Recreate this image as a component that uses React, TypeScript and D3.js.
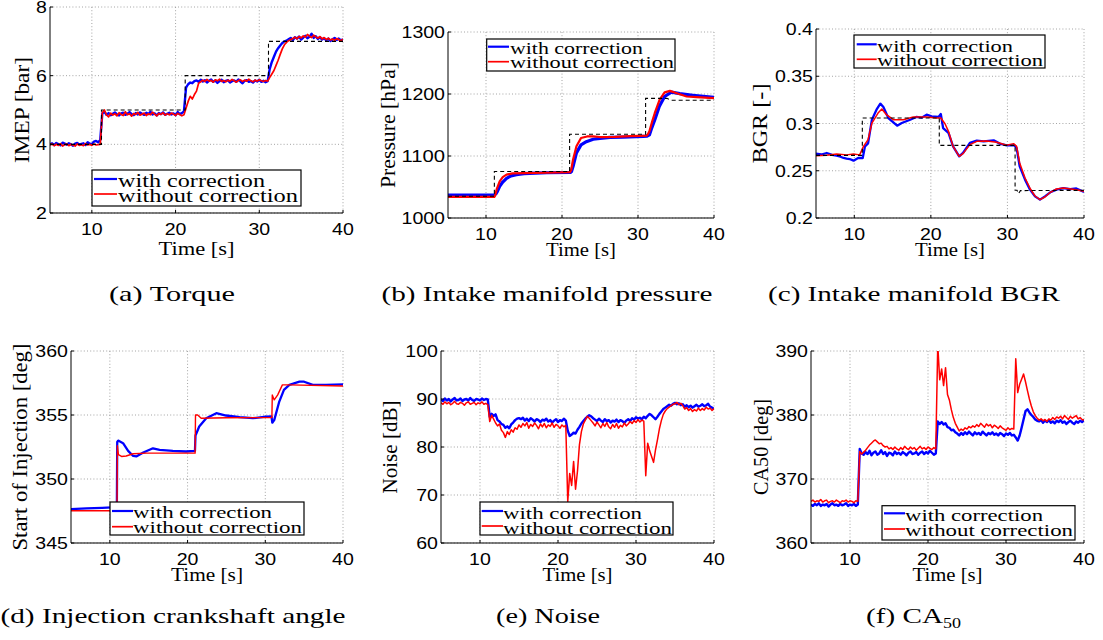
import React from 'react';
import * as d3 from 'd3';

// ---------------- DATA ----------------
const X_DOMAIN = [5, 40];
const X_TICKS = [10, 20, 30, 40];
const LEGEND_LABELS = ['with correction', 'without correction'];
const X_LABEL = 'Time [s]';

// common sampling grid for the noisy signals (every 0.25 s from 5 s to 40 s)
const T_GRID = d3.range(141).map((i) => 5 + i * 0.25);

// (a) Torque – IMEP [bar]
const torqueTicks = [2, 4, 6, 8];
const torqueWith = [
  4.00, 4.03, 3.98, 4.04, 4.01, 3.97, 4.05, 4.02, 3.99, 4.03, 4.00, 3.96, 4.02, 4.04, 3.99, 4.01, 4.03, 3.98, 4.06, 4.02, 4.00, 4.08, 4.10, 4.06, 4.12,
  4.90, 4.95, 4.86, 4.91, 4.85, 4.89, 4.93, 4.87, 4.84, 4.90, 4.92, 4.86, 4.89, 4.94, 4.88, 4.85, 4.91, 4.87, 4.93, 4.89,
  4.86, 4.92, 4.88, 4.95, 4.87, 4.90, 4.84, 4.91, 4.88, 4.93, 4.86, 4.89, 4.92, 4.87, 4.90, 4.85, 4.94, 4.88, 4.91, 4.96,
  5.65, 5.75, 5.80, 5.78, 5.84,
  5.86, 5.82, 5.88, 5.83, 5.87, 5.80, 5.85, 5.89, 5.82, 5.86, 5.79, 5.84, 5.88, 5.81, 5.85, 5.87, 5.80, 5.84, 5.86, 5.82,
  5.89, 5.83, 5.78, 5.85, 5.87, 5.82, 5.84, 5.80, 5.86, 5.83, 5.88, 5.82, 5.85, 5.81, 5.84,
  6.2, 6.4, 6.55, 6.7, 6.8, 6.88, 6.95, 7.0, 7.02,
  7.06, 7.10, 7.03, 7.12, 7.08, 7.14, 7.05, 7.11, 7.16, 7.09, 7.13, 7.22, 7.10, 7.15, 7.07, 7.12, 7.05, 7.09, 7.03, 7.08,
  7.01, 7.06, 7.10, 7.04, 7.08, 7.03, 7.06,
];
const torqueWithout = [
  3.98, 4.01, 3.96, 4.00, 3.97, 4.02, 3.95, 3.99, 4.01, 3.96, 4.00, 3.98, 3.95, 4.01, 3.97, 3.99, 3.96, 4.02, 3.98, 4.00, 3.97, 4.01, 3.98, 3.99, 4.00,
  4.92, 5.00,
  4.86, 4.80, 4.91, 4.85, 4.89, 4.83, 4.92, 4.87, 4.84, 4.95, 4.86, 4.89, 4.82, 4.90, 4.87, 4.93, 4.85, 4.88, 4.91, 4.84,
  4.89, 4.86, 4.94, 4.88, 4.83, 4.90, 4.87, 4.92, 4.85, 4.89, 4.86, 4.91, 4.88, 4.84, 4.90, 4.87, 4.83, 4.86,
  5.05, 5.25, 5.40, 5.32, 5.45, 5.55, 5.78, 5.82,
  5.87, 5.83, 5.89, 5.84, 5.86, 5.81, 5.88, 5.85, 5.90, 5.83, 5.86, 5.82, 5.87, 5.84, 5.89, 5.85, 5.81, 5.86, 5.88, 5.83,
  5.87, 5.84, 5.90, 5.85, 5.82, 5.87, 5.84, 5.88, 5.85, 5.83, 5.86, 5.84,
  5.95, 6.05, 6.15, 6.30, 6.45, 6.62, 6.78, 6.90, 6.97, 7.02,
  7.05, 7.08, 7.12, 7.07, 7.14, 7.10, 7.16, 7.12, 7.20, 7.15, 7.11, 7.18, 7.13, 7.09, 7.14, 7.07, 7.11, 7.05, 7.09, 7.04,
  7.07, 7.03, 7.08, 7.05, 7.02, 7.06,
];
const torqueRef: [number, number][] = [
  [5, 4], [11.15, 4], [11.15, 5], [21.15, 5], [21.15, 6], [31.1, 6], [31.1, 7], [40, 7],
];

// (b) Intake manifold pressure [hPa]
const pressureTicks = [1000, 1100, 1200, 1300];
const pressureWith: [number, number][] = [
  [5, 1037], [8, 1037], [11.1, 1037], [11.3, 1039], [11.5, 1043], [11.8, 1051], [12.2, 1058], [12.7, 1064], [13.3, 1068],
  [14, 1070], [15, 1071.5], [16.5, 1072.5], [18, 1073], [21.1, 1073.5], [21.25, 1075], [21.45, 1083], [21.9, 1105],
  [22.5, 1118], [23.2, 1123], [24.1, 1127], [25, 1128.5], [26.3, 1130], [28, 1130.5], [30.7, 1131.7], [31.2, 1132],
  [31.5, 1134], [31.8, 1145], [32.2, 1158], [32.8, 1180], [33.5, 1196], [34.4, 1203], [35.5, 1200.5], [37.2, 1198], [40, 1194.5],
];
const pressureWithout: [number, number][] = [
  [5, 1034], [11.1, 1034], [11.2, 1036], [11.4, 1046], [11.8, 1059], [12.2, 1066], [12.7, 1070], [13.5, 1072], [15, 1072.5],
  [18, 1073], [21.05, 1074], [21.2, 1077], [21.45, 1094], [21.9, 1115.6], [22.5, 1129], [23.3, 1131.5], [24.1, 1131.7],
  [25, 1130.6], [27, 1131], [29, 1132], [31.15, 1133], [31.3, 1135], [31.5, 1140], [31.85, 1155], [32.2, 1169], [32.85, 1191],
  [33.5, 1202.7], [34.2, 1205], [35, 1201.6], [36.4, 1196], [37.7, 1195], [40, 1193.5],
];
const pressureRef: [number, number][] = [
  [5, 1035], [11.1, 1035], [11.1, 1075], [21.0, 1075], [21.0, 1135], [31.0, 1135], [31.0, 1193], [33.8, 1193],
  [34.4, 1190], [40, 1190],
];

// (c) Intake manifold BGR [-]
const bgrTicks = [0.2, 0.25, 0.3, 0.35, 0.4];
const bgrTickLabels = ['0.2', '0.25', '0.3', '0.35', '0.4'];
const bgrWith: [number, number][] = [
  [5, 0.268], [5.7, 0.2672], [6.4, 0.2688], [7.1, 0.2668], [7.7, 0.266], [8.2, 0.2648], [8.6, 0.2635], [9.0, 0.2628],
  [9.4, 0.2624], [9.9, 0.2607], [10.5, 0.2635], [11.1, 0.2635], [11.4, 0.2758], [11.8, 0.279], [12.3, 0.304],
  [12.9, 0.3146], [13.4, 0.321], [13.8, 0.3175], [14.45, 0.3058], [15.1, 0.3012], [15.6, 0.2977], [16.2, 0.3005],
  [17.3, 0.304], [18.1, 0.3069], [18.8, 0.3062], [19.45, 0.3093], [20.1, 0.3076], [21.0, 0.3069], [21.3, 0.31],
  [21.6, 0.2952], [22.3, 0.29], [22.9, 0.2758], [23.7, 0.2653], [24.2, 0.2688], [25.1, 0.2794], [26.0, 0.2818],
  [26.9, 0.2811], [28.2, 0.2822], [29.0, 0.2787], [29.9, 0.2769], [30.9, 0.2769], [31.2, 0.274], [31.6, 0.2547],
  [32.3, 0.2406], [32.95, 0.23], [33.6, 0.2229], [34.25, 0.2194], [34.9, 0.2229], [35.6, 0.2272], [36.4, 0.23],
  [37.3, 0.2317], [38.2, 0.2305], [39, 0.2312], [40, 0.2275],
];
const bgrWithout: [number, number][] = [
  [5, 0.266], [6.4, 0.2665], [7.7, 0.2677], [9, 0.2668], [9.9, 0.2677], [10.7, 0.2668], [11.2, 0.2758], [11.8, 0.283],
  [12.3, 0.3005], [13.1, 0.311], [13.6, 0.3153], [14.2, 0.3093], [15.1, 0.304], [16.4, 0.304], [17.7, 0.3069],
  [19.45, 0.3069], [20.8, 0.3058], [21.3, 0.3058], [21.85, 0.2998], [22.3, 0.2917], [22.9, 0.2758], [23.7, 0.2653],
  [24.2, 0.2681], [25.1, 0.2776], [26.0, 0.2811], [27.3, 0.2815], [28.6, 0.2801], [29.9, 0.2769], [30.8, 0.2787],
  [31.2, 0.2758], [31.6, 0.2582], [32.3, 0.2423], [33.0, 0.2307], [33.6, 0.2233], [34.25, 0.2194], [34.9, 0.2222],
  [35.6, 0.2272], [36.4, 0.2307], [37.3, 0.2317], [39, 0.23], [40, 0.2282],
];
const bgrRef: [number, number][] = [
  [5, 0.2663], [11.05, 0.2663], [11.05, 0.3058], [21.1, 0.3058], [21.1, 0.2769], [31.0, 0.2769], [31.0, 0.2293],
  [31.25, 0.2293], [31.45, 0.2258], [31.7, 0.229], [40, 0.2293],
];

// (d) Start of injection [deg]
const soiTicks = [345, 350, 355, 360];
const soiWith: [number, number][] = [
  [5, 347.65], [7, 347.7], [9, 347.75], [10.9, 347.8], [10.95, 352.9], [11.07, 353.0], [11.7, 352.8], [12.35, 352.2],
  [13.0, 351.8], [13.4, 351.76], [14.3, 352.07], [15.55, 352.4], [16.4, 352.28], [18.1, 352.2], [19.8, 352.15],
  [20.95, 352.2], [21.02, 353.4], [21.5, 354.1], [22.4, 354.75], [23.7, 355.14], [24.95, 354.96], [26.7, 354.83],
  [28.4, 354.75], [30.1, 354.88], [30.8, 354.9], [30.9, 354.4], [31.15, 354.6], [31.8, 356.05], [32.4, 356.96],
  [33.1, 357.35], [34.4, 357.6], [35.0, 357.6], [36.1, 357.35], [37.8, 357.35], [40, 357.4],
];
const soiWithout: [number, number][] = [
  [5, 347.52], [10.92, 347.52], [10.97, 352.6], [11.1, 351.9], [11.5, 351.76], [12.1, 351.8], [13, 351.97], [14.7, 352.02],
  [20.97, 352.02], [21.02, 355.0], [21.3, 355.0], [21.75, 354.75], [25, 354.78], [30.85, 354.8], [30.9, 356.57],
  [31.15, 356.18], [31.6, 356.57], [32.2, 357.35], [33.1, 357.35], [40, 357.27],
];

// (e) Noise [dB]
const noiseTicks = [60, 70, 80, 90, 100];
const noiseWith = [
  89.9, 89.6, 90.1, 89.7, 90.0, 89.5, 89.9, 90.2, 89.7, 89.8, 90.1, 89.6, 89.9, 90.0, 89.7, 90.2, 89.8, 89.6, 90.0, 89.9, 89.7, 90.1, 89.8, 90.0, 89.9,
  86.3, 86.9, 86.5, 86.8, 85.6, 85.3, 84.8, 84.6, 84.0, 84.3, 83.9, 84.7, 85.1, 85.6, 85.9, 86.0,
  85.8, 86.1, 85.5, 85.9, 85.4, 86.0, 85.7, 85.3, 85.8, 85.6, 85.2, 85.7, 85.5, 85.9, 85.3, 85.6, 85.1, 85.5, 85.8, 85.2, 85.6, 85.4, 85.9, 85.5,
  83.4, 82.3, 82.6, 83.0, 82.8, 83.6, 84.2, 84.9, 85.4, 85.9, 86.3, 86.6, 86.4,
  86.0, 85.7, 85.4, 85.9, 85.5, 85.2, 85.8, 85.4, 85.6, 85.1, 85.5, 85.3, 85.7, 85.2, 85.6, 85.4, 85.0, 85.5, 85.8, 85.4, 86.0, 85.7, 86.2, 85.9, 86.1, 85.8, 86.3,
  86.0, 86.5, 86.9, 86.6, 86.2, 85.8, 86.3, 86.9, 87.4, 87.9, 88.2, 88.5,
  88.8, 88.6, 89.0, 89.2, 88.9, 89.1, 88.7, 88.9, 88.4, 88.7, 88.3, 88.6, 88.2, 88.5, 88.8, 88.4, 88.6, 88.9, 88.5, 88.7, 89.0, 88.4, 88.2, 87.9,
];
const noiseWithout = [
  89.2, 88.9, 89.4, 89.0, 89.3, 88.8, 89.1, 89.5, 89.0, 88.9, 89.3, 89.1, 88.7, 89.2, 89.4, 88.9, 89.1, 89.3, 88.8, 89.2, 89.0, 89.4, 88.9, 89.1, 88.8,
  85.3, 86.6, 85.8, 85.0, 84.4, 84.8, 83.5, 83.0, 82.0, 83.2, 82.6, 83.6, 83.1, 84.0, 83.7, 84.6,
  84.1, 84.9, 84.4, 85.1, 83.9, 84.7, 84.3, 85.0, 84.5, 83.8, 84.8, 84.2, 84.9, 84.0, 84.6, 84.3, 85.0, 84.1, 84.7, 84.4, 83.9, 84.6, 84.2, 84.5,
  68.6, 74.5, 72.0, 77.0, 71.2, 75.0, 80.5, 83.2, 84.8, 85.6, 86.4, 86.0, 85.5,
  85.0, 84.4, 85.2, 84.6, 84.0, 84.9, 84.3, 85.1, 84.2, 83.8, 84.7, 84.1, 84.9, 83.9, 84.5, 84.2, 85.0, 84.4, 84.8, 85.3, 84.9, 85.5, 85.1, 85.7, 85.2, 85.6, 85.4,
  74.0, 80.8, 79.2, 78.0, 76.8, 79.4, 81.5, 83.8, 85.5, 86.8, 87.5, 88.0,
  88.3, 88.6, 88.9, 89.0, 89.3, 88.8, 89.1, 88.6, 87.9, 88.2, 87.6, 88.0, 87.4, 87.8, 87.5, 88.1, 87.6, 88.0, 87.7, 88.3, 87.9, 88.1, 87.6, 88.0,
];

// (f) CA50 [deg]
const ca50Ticks = [360, 370, 380, 390];
const ca50With = [
  366.0, 365.8, 366.1, 365.9, 366.2, 365.8, 366.0, 365.9, 366.1, 365.7, 366.0, 366.2, 365.9, 366.0, 365.8, 366.1, 365.9, 366.0, 366.2, 365.8, 366.0, 365.9, 366.1, 365.8, 366.0,
  374.7, 374.0,
  373.8, 374.2, 373.9, 374.4, 373.7, 374.1, 374.3, 373.8, 374.0, 374.5, 373.9, 374.2, 373.6, 374.1, 374.0, 373.7, 374.3, 373.9, 374.1, 373.8,
  374.2, 374.0, 373.7, 374.1, 374.3, 373.9, 374.0, 374.2, 373.8, 374.1, 374.3, 373.9, 374.2, 374.0, 374.4, 374.1, 373.8, 374.0,
  379.0, 378.6, 378.9, 378.5, 378.7, 378.1, 378.0, 377.6, 377.7, 377.3, 377.1, 376.8,
  377.2, 376.9, 377.3, 377.0, 377.4, 377.1, 376.8, 377.3, 377.0, 377.2, 376.9, 377.4, 377.1, 376.8, 377.2, 377.0, 377.3, 376.9, 377.1, 376.8,
  377.2, 377.0, 376.7, 377.1, 376.9, 377.2, 376.8,
  376.9, 376.5, 376.0, 376.8, 378.0, 379.3, 380.6, 380.9, 380.4, 380.0, 379.7, 379.3, 379.1,
  379.0, 379.2, 378.8, 379.1, 378.9, 379.2, 378.8, 379.0, 378.7, 379.1, 378.9, 379.2, 378.8, 379.0, 378.6, 378.9, 379.1, 378.8, 378.6, 379.0,
  378.8, 379.1, 378.9, 379.2,
];
const ca50Without = [
  366.5, 366.7, 366.4, 366.6, 366.5, 366.8, 366.4, 366.6, 366.7, 366.3, 366.5, 366.6, 366.4, 366.7, 366.5, 366.3, 366.6, 366.5, 366.7, 366.4, 366.6, 366.5, 366.3, 366.6, 366.5,
  374.3, 373.9, 374.2, 374.5, 374.9, 375.3, 375.6, 375.9, 376.1, 375.8, 375.5, 375.6, 375.2, 375.0, 375.1, 374.7,
  374.9, 374.6, 375.0, 374.7, 374.5, 374.9, 374.6, 375.1, 374.8, 374.6, 375.0, 374.7, 374.9, 374.5, 374.8, 375.1, 374.7, 374.9, 374.6, 375.0,
  374.8, 374.6, 374.9, 374.7,
  391.0, 385.5, 387.2, 384.6, 387.4, 383.2, 382.3, 380.8, 379.6, 378.7, 378.1, 377.5, 377.8, 377.6,
  378.0, 377.8, 378.2, 378.0, 378.3, 378.1, 378.5, 378.2, 378.7, 378.4, 378.1, 378.6, 378.3, 378.5, 378.0, 378.4, 378.2, 377.9, 378.3, 378.0,
  377.8, 377.6, 378.0, 377.7, 377.9,
  377.8, 388.8, 383.5, 384.8, 385.6, 386.4, 385.2, 383.8, 382.5, 381.4, 380.5, 379.9, 379.5,
  379.2, 379.4, 379.1, 379.3, 379.0, 379.4, 379.2, 379.6, 379.3, 379.7, 379.5, 379.8, 379.4, 379.9, 379.6, 379.3, 379.8, 379.5, 379.7, 379.9,
  379.4, 379.6, 379.3, 379.2,
];

// captions
const CAPTIONS = [
  '(a) Torque',
  '(b) Intake manifold pressure',
  '(c) Intake manifold BGR',
  '(d) Injection crankshaft angle',
  '(e) Noise',
];
const CAPTION_F = ['(f) CA', '50'];

// ---------------- LAYOUT ----------------
const SERIF = "'Liberation Serif', 'Times New Roman', serif";
const SANS = "'Liberation Sans', Arial, Helvetica, sans-serif";
const BLUE = '#0000ff';
const RED = '#ff0000';

const onGrid = (vals: number[]): [number, number][] => vals.map((v, i) => [T_GRID[i], v]);

type Legend = {
  x0: number; x1: number; y0: number; y1: number;
  lx0: number; lx1: number; ly: [number, number];
  tx: number; by: [number, number]; fs: number; tl: [number, number];
};

type PanelCfg = {
  id: string;
  left: number; right: number; top: number; bottom: number;
  yDomain: [number, number];
  yTicks: number[];
  yTickLabels?: string[];
  yLabel: string; yLabelX: number; yLabelLen: number;
  xLabelY: number; xLabelLen: number;
  withData: [number, number][];
  withoutData: [number, number][];
  refData?: [number, number][];
  blueW: number; redW: number;
  legend: Legend;
};

const PANELS: PanelCfg[] = [
  {
    id: 'a', left: 50, right: 343, top: 7, bottom: 213, yDomain: [2, 8], yTicks: torqueTicks,
    yLabel: 'IMEP [bar]', yLabelX: 28.5, yLabelLen: 106, xLabelY: 255, xLabelLen: 76,
    withData: onGrid(torqueWith), withoutData: onGrid(torqueWithout), refData: torqueRef, blueW: 2.4, redW: 1.7,
    legend: { x0: 92, x1: 301, y0: 170, y1: 206, lx0: 94, lx1: 117, ly: [179, 194], tx: 118, by: [186.7, 202.3], fs: 19.5, tl: [147, 180] },
  },
  {
    id: 'b', left: 448, right: 714, top: 32, bottom: 218, yDomain: [1000, 1300], yTicks: pressureTicks,
    yLabel: 'Pressure [hPa]', yLabelX: 395, yLabelLen: 126, xLabelY: 256, xLabelLen: 70,
    withData: pressureWith, withoutData: pressureWithout, refData: pressureRef, blueW: 3.2, redW: 2.2,
    legend: { x0: 486.7, x1: 675, y0: 39, y1: 71, lx0: 488, lx1: 509, ly: [46.7, 61.7], tx: 510, by: [53.5, 68.3], fs: 17, tl: [133, 164] },
  },
  {
    id: 'c', left: 816, right: 1084, top: 29, bottom: 218, yDomain: [0.2, 0.4], yTicks: bgrTicks, yTickLabels: bgrTickLabels,
    yLabel: 'BGR [-]', yLabelX: 767, yLabelLen: 80, xLabelY: 256, xLabelLen: 70,
    withData: bgrWith, withoutData: bgrWithout, refData: bgrRef, blueW: 2.3, redW: 1.5,
    legend: { x0: 854, x1: 1045, y0: 35, y1: 68, lx0: 856.7, lx1: 876.7, ly: [44.3, 59.3], tx: 877, by: [51.7, 66], fs: 17, tl: [136, 166] },
  },
  {
    id: 'd', left: 71, right: 343, top: 351, bottom: 543, yDomain: [345, 360], yTicks: soiTicks,
    yLabel: 'Start of Injection [deg]', yLabelX: 26.7, yLabelLen: 207, xLabelY: 581, xLabelLen: 72,
    withData: soiWith, withoutData: soiWithout, blueW: 2.3, redW: 1.4,
    legend: { x0: 110, x1: 304, y0: 502, y1: 535, lx0: 112, lx1: 133, ly: [511, 526.7], tx: 133, by: [518.3, 533.3], fs: 17, tl: [139, 169] },
  },
  {
    id: 'e', left: 441, right: 714, top: 351, bottom: 543, yDomain: [60, 100], yTicks: noiseTicks,
    yLabel: 'Noise [dB]', yLabelX: 397, yLabelLen: 93, xLabelY: 581, xLabelLen: 70,
    withData: onGrid(noiseWith), withoutData: onGrid(noiseWithout), blueW: 2.4, redW: 1.5,
    legend: { x0: 480, x1: 673, y0: 502, y1: 535, lx0: 481.7, lx1: 503, ly: [511, 526], tx: 503, by: [518.7, 533.7], fs: 17, tl: [139, 169] },
  },
  {
    id: 'f', left: 811, right: 1084, top: 351, bottom: 543, yDomain: [360, 390], yTicks: ca50Ticks,
    yLabel: 'CA50 [deg]', yLabelX: 768, yLabelLen: 96, xLabelY: 581, xLabelLen: 70,
    withData: onGrid(ca50With), withoutData: onGrid(ca50Without), blueW: 2.4, redW: 1.5,
    legend: { x0: 882, x1: 1075, y0: 505.7, y1: 540, lx0: 884, lx1: 905, ly: [513.3, 529], tx: 905, by: [521, 535.7], fs: 17, tl: [138, 168] },
  },
];

// caption layout: centre x, baseline y, width
const CAPTION_POS = [
  { cx: 172, y: 301, w: 126 },
  { cx: 547, y: 301, w: 331 },
  { cx: 914, y: 301, w: 292 },
  { cx: 173, y: 623, w: 345 },
  { cx: 548, y: 623, w: 104 },
];
const CAPTION_F_POS = { x: 866, y: 623, w1: 77, w2: 18 };

const TICK_FS = 17;
const TICK_STRETCH = 1.15;
const tickWidth = (s: string) =>
  s.split('').reduce((acc, c) => acc + (c === '.' ? 0.278 : c === '-' ? 0.333 : 0.556), 0) * TICK_FS * TICK_STRETCH;

function Panel({ p }: { p: PanelCfg }) {
  const x = d3.scaleLinear().domain(X_DOMAIN).range([p.left, p.right]);
  const y = d3.scaleLinear().domain(p.yDomain).range([p.bottom, p.top]);
  const line = d3.line<[number, number]>().x((d) => x(d[0])).y((d) => y(d[1]));
  const clipId = `clip-${p.id}`;
  const lg = p.legend;
  const gridStyle = { stroke: '#9a9a9a', strokeWidth: 0.9, strokeDasharray: '1 2.2' };
  const yLabels = p.yTickLabels ?? p.yTicks.map((t) => String(t));
  const cy = (p.top + p.bottom) / 2;
  return (
    <g>
      <defs>
        <clipPath id={clipId}>
          <rect x={p.left} y={p.top} width={p.right - p.left} height={p.bottom - p.top} />
        </clipPath>
      </defs>
      {/* grid */}
      {X_TICKS.map((t) => (
        <line key={`gx${t}`} x1={x(t)} x2={x(t)} y1={p.top} y2={p.bottom} {...gridStyle} />
      ))}
      {p.yTicks.map((t) => (
        <line key={`gy${t}`} x1={p.left} x2={p.right} y1={y(t)} y2={y(t)} {...gridStyle} />
      ))}
      {/* data */}
      <g clipPath={`url(#${clipId})`}>
        <path d={line(p.withData) ?? ''} fill="none" stroke={BLUE} strokeWidth={p.blueW} strokeLinejoin="round" />
        <path d={line(p.withoutData) ?? ''} fill="none" stroke={RED} strokeWidth={p.redW} strokeLinejoin="round" />
        {p.refData && (
          <path d={line(p.refData) ?? ''} fill="none" stroke="#000" strokeWidth={1.1} strokeDasharray="4 3" />
        )}
      </g>
      {/* axes */}
      <line x1={p.left} x2={p.left} y1={p.top} y2={p.bottom} stroke="#000" strokeWidth={1} />
      <line x1={p.left} x2={p.right} y1={p.bottom} y2={p.bottom} stroke="#000" strokeWidth={1} />
      {X_TICKS.map((t) => (
        <line key={`tx${t}`} x1={x(t)} x2={x(t)} y1={p.bottom} y2={p.bottom - 3} stroke="#000" strokeWidth={1} />
      ))}
      {p.yTicks.map((t) => (
        <line key={`ty${t}`} x1={p.left} x2={p.left + 3} y1={y(t)} y2={y(t)} stroke="#000" strokeWidth={1} />
      ))}
      {/* tick labels */}
      {X_TICKS.map((t) => (
        <text key={`lx${t}`} x={x(t)} y={p.bottom + 22} textAnchor="middle" fontFamily={SANS} fontSize={TICK_FS}
          textLength={tickWidth(String(t))} lengthAdjust="spacingAndGlyphs">{String(t)}</text>
      ))}
      {p.yTicks.map((t, i) => (
        <text key={`ly${t}`} x={p.left - 3} y={y(t) + 6} textAnchor="end" fontFamily={SANS} fontSize={TICK_FS}
          textLength={tickWidth(yLabels[i])} lengthAdjust="spacingAndGlyphs">{yLabels[i]}</text>
      ))}
      {/* axis labels */}
      <text x={(p.left + p.right) / 2} y={p.xLabelY} textAnchor="middle" fontFamily={SERIF} fontSize={19}
        textLength={p.xLabelLen} lengthAdjust="spacingAndGlyphs">{X_LABEL}</text>
      <text transform={`translate(${p.yLabelX},${cy}) rotate(-90)`} textAnchor="middle" fontFamily={SERIF} fontSize={20}
        textLength={p.yLabelLen} lengthAdjust="spacingAndGlyphs">{p.yLabel}</text>
      {/* legend */}
      <rect x={lg.x0} y={lg.y0} width={lg.x1 - lg.x0} height={lg.y1 - lg.y0} fill="#fff" stroke="#000" strokeWidth={1.2} />
      <line x1={lg.lx0} x2={lg.lx1} y1={lg.ly[0]} y2={lg.ly[0]} stroke={BLUE} strokeWidth={2.2} />
      <line x1={lg.lx0} x2={lg.lx1} y1={lg.ly[1]} y2={lg.ly[1]} stroke={RED} strokeWidth={1.7} />
      {LEGEND_LABELS.map((s, i) => (
        <text key={s} x={lg.tx} y={lg.by[i]} fontFamily={SERIF} fontSize={lg.fs} textLength={lg.tl[i]}
          lengthAdjust="spacingAndGlyphs">{s}</text>
      ))}
    </g>
  );
}

export default function App() {
  return (
    <svg width={1103} height={640} viewBox="0 0 1103 640"
      style={{ position: 'absolute', left: 0, top: 0, background: '#fff', display: 'block' }}>
      <rect x={0} y={0} width={1103} height={640} fill="#fff" />
      {PANELS.map((p) => (
        <Panel key={p.id} p={p} />
      ))}
      {CAPTIONS.map((c, i) => (
        <text key={c} x={CAPTION_POS[i].cx} y={CAPTION_POS[i].y} textAnchor="middle" fontFamily={SERIF} fontSize={22}
          textLength={CAPTION_POS[i].w} lengthAdjust="spacingAndGlyphs">{c}</text>
      ))}
      <text x={CAPTION_F_POS.x} y={CAPTION_F_POS.y} fontFamily={SERIF} fontSize={22}
        textLength={CAPTION_F_POS.w1} lengthAdjust="spacingAndGlyphs">{CAPTION_F[0]}</text>
      <text x={CAPTION_F_POS.x + CAPTION_F_POS.w1} y={CAPTION_F_POS.y + 5} fontFamily={SERIF} fontSize={15}
        textLength={CAPTION_F_POS.w2} lengthAdjust="spacingAndGlyphs">{CAPTION_F[1]}</text>
    </svg>
  );
}
